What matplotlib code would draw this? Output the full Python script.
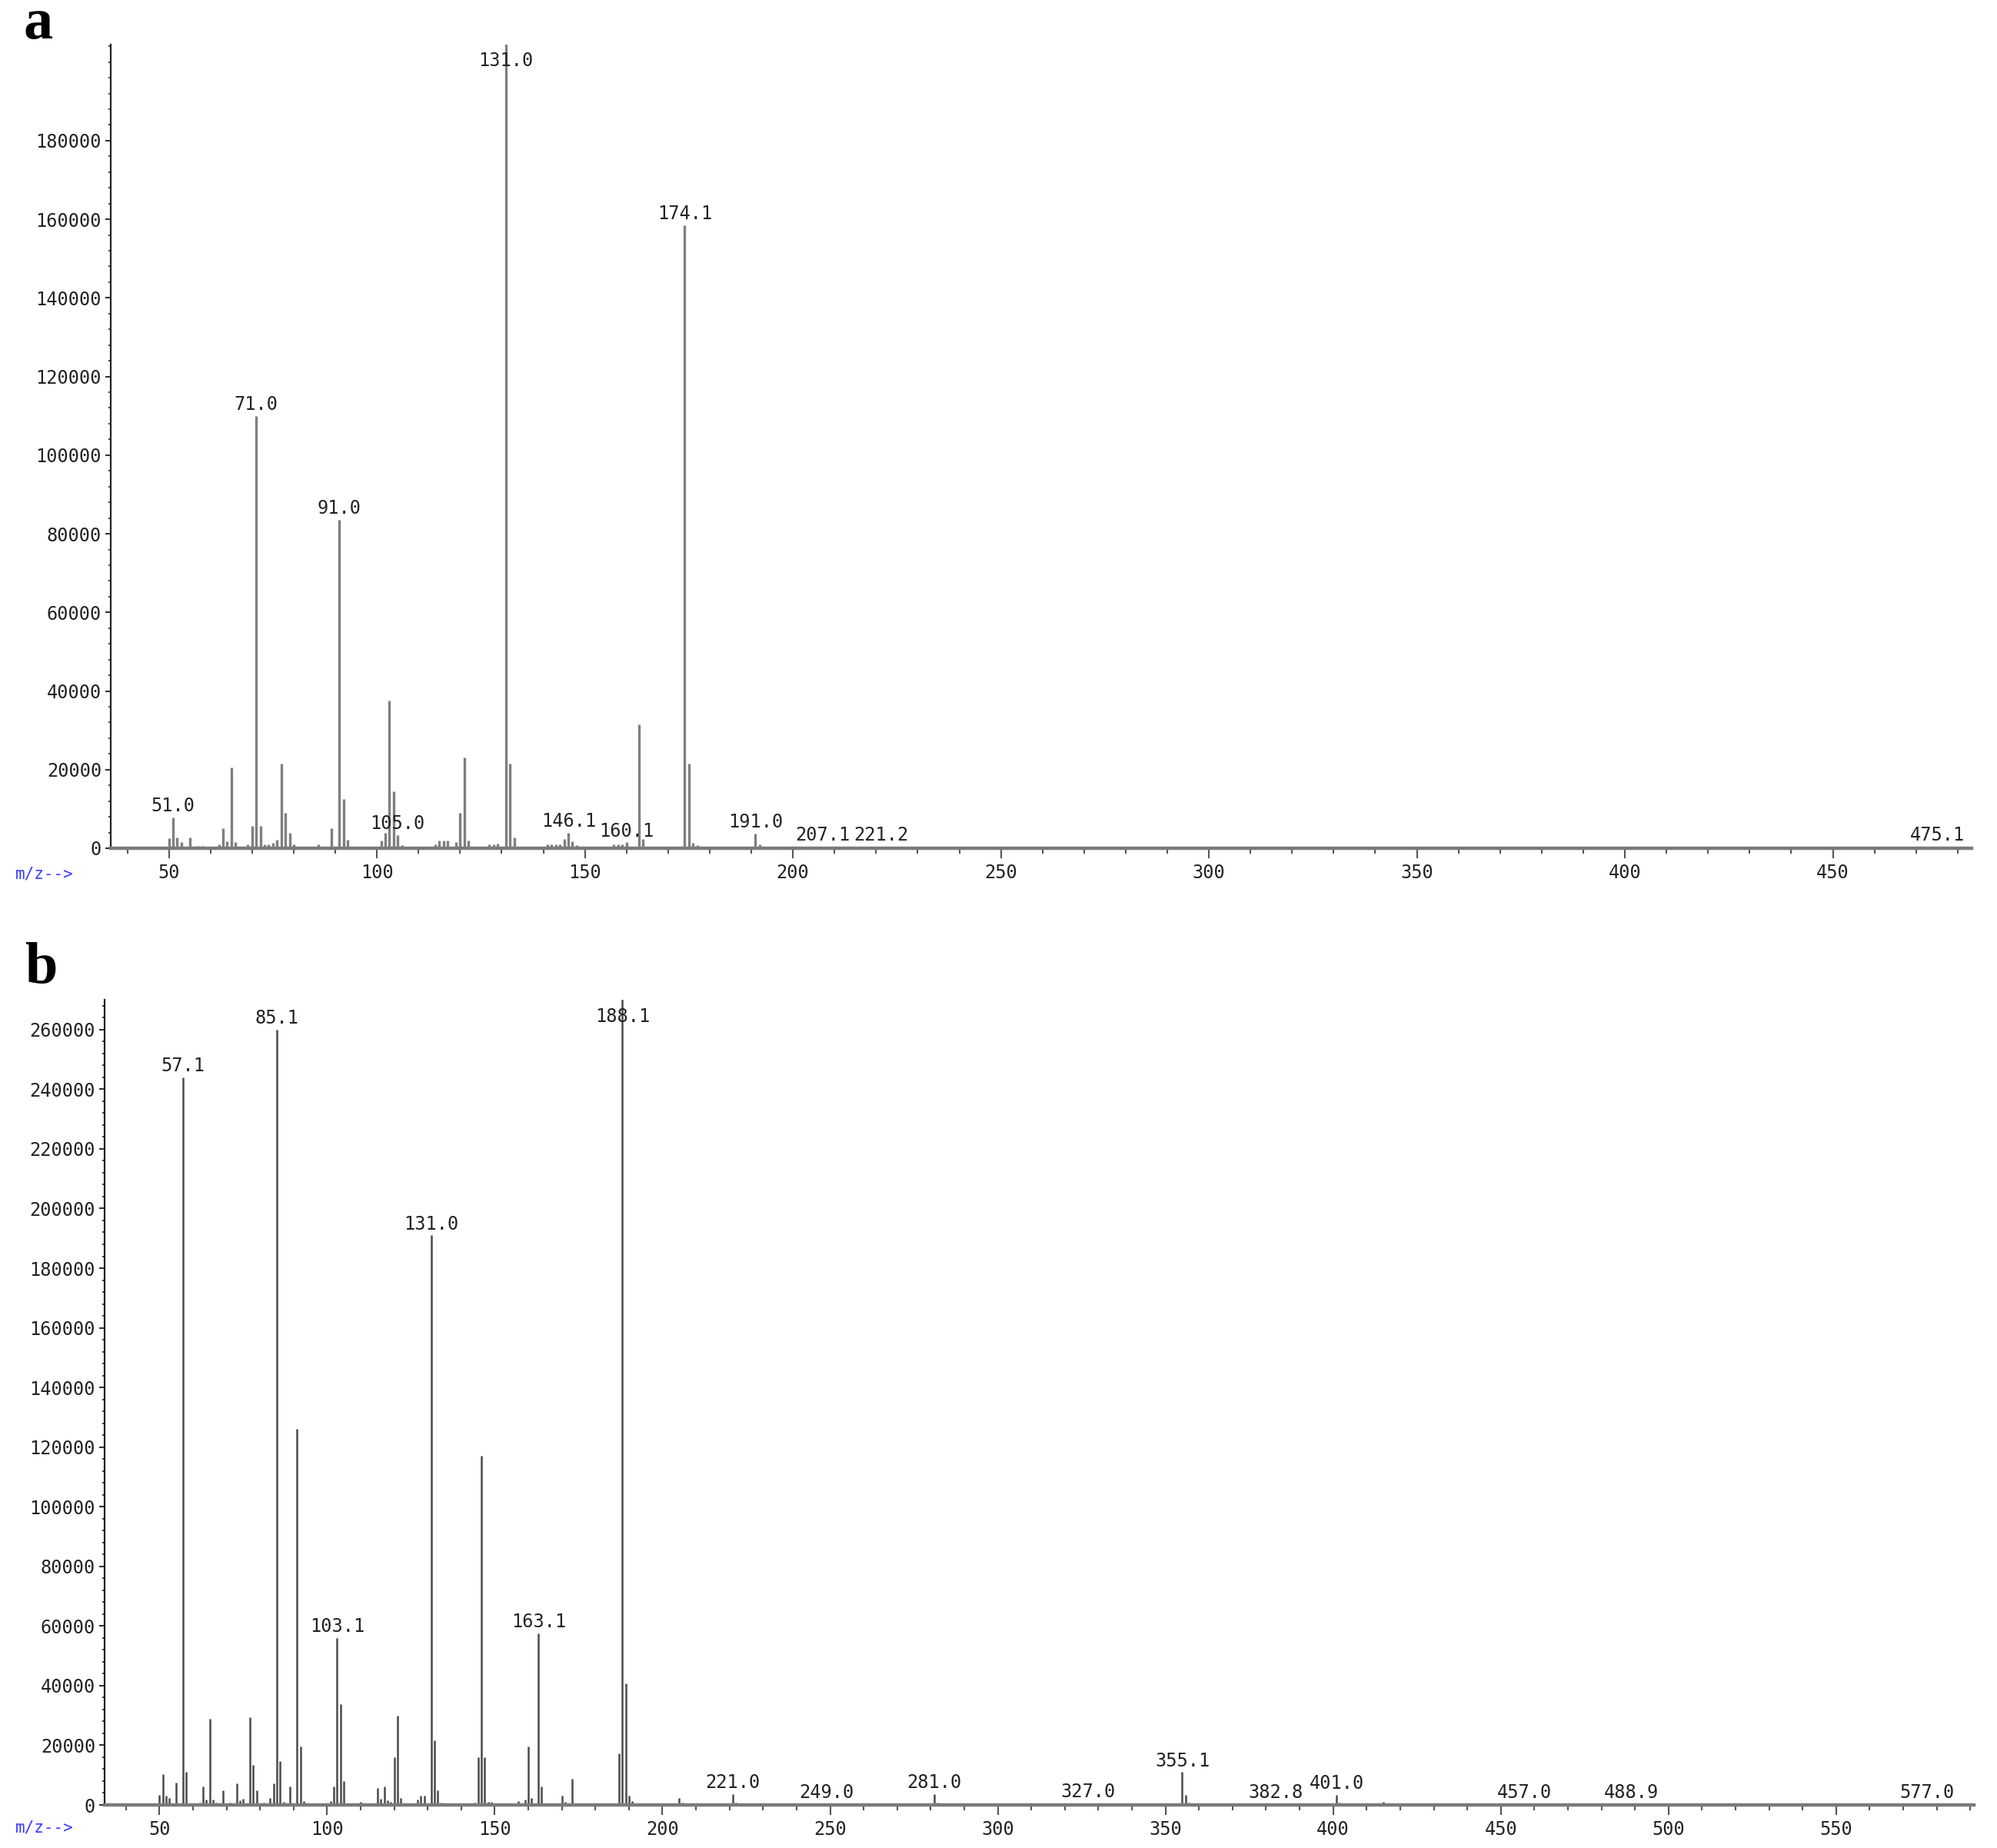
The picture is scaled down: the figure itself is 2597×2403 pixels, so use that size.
#!/usr/bin/env python3
# Mass spectra, panels a and b
import numpy as np
import matplotlib
matplotlib.use("Agg")
import matplotlib.pyplot as plt

# panel a: m/z and abundance
mz_a = [50, 51, 52, 53, 55, 57, 58, 62, 63, 64, 65, 66, 69, 70, 71, 72, 73, 74, 75, 76,
        77, 78, 79, 80, 86, 89, 91, 92, 93, 101, 102, 103, 104, 105, 106, 114, 115, 116,
        117, 119, 120, 121, 122, 127, 128, 129, 131, 132, 133, 140, 141, 142, 143, 144,
        145, 146, 147, 148, 157, 158, 159, 160, 163, 164, 174, 175, 176, 177, 191, 192,
        207, 221, 475]
int_a = [2500, 7900, 2800, 1500, 2800, 500, 500, 1000, 5100, 1700, 20500, 1500, 1000, 5700,
         110000, 5700, 1000, 1000, 1300, 2100, 21500, 9000, 3900, 1000, 1000, 5100, 83500,
         12500, 2100, 2000, 4000, 37500, 14500, 3300, 700, 1000, 2000, 2000, 2000, 1500, 9000,
         23000, 2000, 1000, 1000, 1100, 206000, 21500, 2700, 300, 1000, 1000, 1000, 1000, 2300,
         4000, 1700, 800, 1000, 1000, 1000, 1500, 31500, 2300, 158500, 21500, 1300, 700, 3800,
         1000, 400, 400, 400]
labels_a = ["51.0", "71.0", "91.0", "105.0", "131.0", "146.1", "160.1", "174.1", "191.0",
            "207.1", "221.2", "475.1"]

# panel b
mz_b = [50, 51, 52, 53, 55, 57, 58, 60, 62, 63, 64, 65, 66, 67, 69, 71, 73, 74, 75, 77, 78,
        79, 81, 83, 84, 85, 86, 87, 89, 91, 92, 93, 95, 97, 101, 102, 103, 104, 105, 106, 110,
        115, 116, 117, 118, 119, 120, 121, 122, 127, 128, 129, 131, 132, 133, 134, 141, 143,
        144, 145, 146, 147, 148, 149, 155, 157, 159, 160, 161, 163, 164, 170, 171, 173, 177,
        187, 188, 189, 190, 191, 205, 206, 221, 222, 249, 267, 281, 282, 325, 327, 342, 355,
        356, 357, 383, 401, 402, 415, 416, 457, 489, 577]
int_b = [3400, 10300, 3000, 2400, 7500, 244000, 11000, 400, 900, 6300, 1700, 28900, 1700, 800,
         4900, 800, 7100, 1600, 2000, 29500, 13400, 4900, 900, 2400, 7300, 260000, 14700, 1000,
         6300, 126000, 19700, 1300, 500, 500, 1200, 6300, 56000, 33800, 8000, 600, 1000, 5800,
         2000, 6300, 1600, 1000, 16000, 30000, 2400, 1700, 3200, 3200, 191000, 21600, 4900, 900,
         400, 600, 900, 16000, 117000, 16000, 1000, 1000, 400, 1300, 1700, 19700, 2400, 57600,
         6300, 3200, 1000, 8800, 400, 17200, 272000, 40700, 3200, 1300, 2400, 900, 3600, 900,
         300, 400, 3600, 900, 500, 600, 400, 11000, 3400, 900, 400, 3400, 900, 1000, 400, 200,
         200, 200]
labels_b = ["57.1", "85.1", "103.1", "131.0", "163.1", "188.1", "221.0", "249.0", "281.0",
            "327.0", "355.1", "382.8", "401.0", "457.0", "488.9", "577.0"]

MONO = ["DejaVu Sans Mono"]


def draw_panel(ax, mz, inten, labels, xlim, ymax, ytick_max, xmax_tick, color, lw):
    ax.vlines(mz, 0, inten, colors=color, lw=lw)

    for s in ["top", "right"]:
        ax.spines[s].set_visible(False)
    ax.spines["bottom"].set_color("#7a7a7a")
    ax.spines["bottom"].set_linewidth(3.2)
    ax.spines["left"].set_color("#222222")
    ax.spines["left"].set_linewidth(1.6)

    ax.set_xticks(np.arange(50, xmax_tick + 1, 50))
    ax.set_xticks(np.arange(40, xlim[1], 10), minor=True)
    yt = np.arange(0, ytick_max + 1, 20000)
    ax.set_yticks(yt)
    ax.set_yticklabels([f"{int(t)}" for t in yt])
    ax.set_yticks(np.arange(0, ymax, 4000), minor=True)
    ax.set_xlim(xlim)
    ax.set_ylim(0, ymax)

    ax.tick_params(axis="x", which="major", direction="out", length=9.5, width=1.5,
                   color="#555555", pad=5, labelsize=17, labelcolor="#222222")
    ax.tick_params(axis="x", which="minor", direction="out", length=5, width=1.5,
                   color="#555555")
    ax.tick_params(axis="y", which="major", direction="out", length=5, width=1.5,
                   color="#333333", pad=3.5, labelsize=17, labelcolor="#222222")
    ax.tick_params(axis="y", which="minor", direction="out", length=2.5, width=1.3,
                   color="#333333")
    for t in ax.get_xticklabels() + ax.get_yticklabels():
        t.set_family(MONO)

    mz_arr = np.array(mz)
    int_arr = np.array(inten)
    for txt in labels:
        x = float(txt)
        h = int_arr[np.argmin(np.abs(mz_arr - x))]
        y = min(h, ymax * 0.965)
        ax.annotate(txt, (x, y), xytext=(0, 2), textcoords="offset points",
                    ha="center", va="bottom", fontsize=17, color="#222222",
                    family=MONO, annotation_clip=False)


fig = plt.figure(figsize=(25.97, 24.03), dpi=100)
ax_a = fig.add_axes([0.0554, 0.541, 0.932, 0.435])
ax_b = fig.add_axes([0.0523, 0.0233, 0.936, 0.4357])

draw_panel(ax_a, mz_a, int_a, labels_a, (36.0, 483.4), 204500, 180000, 450, "#7f7f7f", 2.4)
draw_panel(ax_b, mz_b, int_b, labels_b, (33.6, 591.0), 270000, 260000, 550, "#4a4a4a", 1.8)

# panel letters and the blue m/z marks
fig.text(0.0116, 0.979, "a", fontsize=55, fontweight="bold", family="Liberation Serif",
         va="baseline", ha="left")
fig.text(0.0125, 0.468, "b", fontsize=55, fontweight="bold", family="Liberation Serif",
         va="baseline", ha="left")
fig.text(0.0077, 1 - 1136 / 2403, "m/z-->", fontsize=15, color="#3a3aff", family=MONO,
         va="center", ha="left")
fig.text(0.0077, 1 - 2377 / 2403, "m/z-->", fontsize=15, color="#3a3aff", family=MONO,
         va="center", ha="left")

fig.savefig("out.png", dpi=100, facecolor="white")
